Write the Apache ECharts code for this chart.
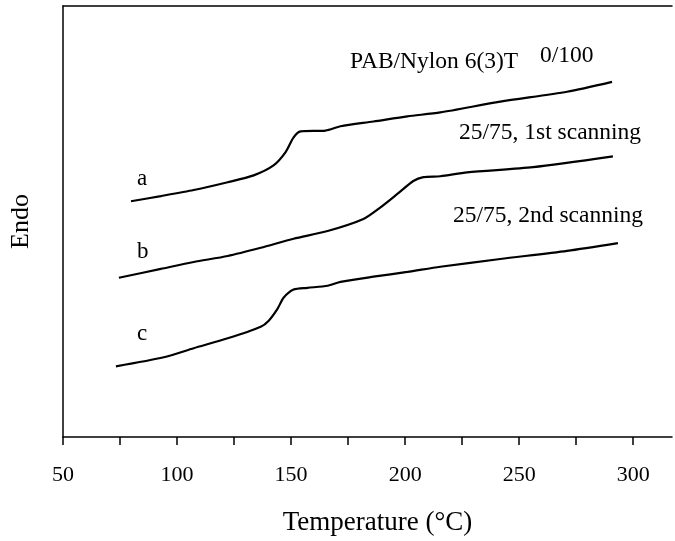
<!DOCTYPE html>
<html>
<head>
<meta charset="utf-8">
<script src="https://cdn.jsdelivr.net/npm/echarts@6/dist/echarts.min.js"></script>
<style>html,body{margin:0;padding:0;background:#fff}#c{width:675px;height:541px}</style>
</head>
<body>
<div id="c"></div>
<script>
// Temperature (°C) and Endo (arbitrary units)
var tempA = [79.8, 92.9, 107.3, 122.2, 133.6, 142.3, 147.6, 151.1, 154.2, 165.1, 171.7, 186.1, 201.0, 215.4, 241.7, 271.0, 290.7];
var endoA = [54.7, 55.9, 57.3, 59.1, 60.7, 63.0, 66.1, 69.5, 70.9, 71.1, 72.1, 73.2, 74.4, 75.3, 77.8, 80.1, 82.4];

var tempB = [74.5, 92.9, 107.3, 122.2, 136.7, 151.1, 166.0, 181.7, 189.2, 196.6, 203.6, 208.0, 215.4, 227.2, 256.1, 291.1];
var endoB = [36.95, 39.0, 40.6, 42.0, 43.9, 46.0, 47.8, 50.6, 53.3, 56.4, 59.4, 60.3, 60.5, 61.4, 62.6, 65.1];

var tempC = [73.2, 94.2, 107.3, 122.2, 136.7, 140.2, 144.1, 146.7, 151.1, 157.2, 166.0, 171.7, 186.1, 201.0, 215.4, 241.7, 271.0, 293.3];
var endoC = [16.4, 18.5, 20.6, 22.9, 25.6, 27.0, 29.8, 32.3, 34.2, 34.6, 35.1, 36.0, 37.2, 38.3, 39.5, 41.3, 43.2, 45.0];

var xTickLabels = [50, 100, 150, 200, 250, 300];

var curveLabels = ['a', 'b', 'c'];
var annotations = ['PAB/Nylon 6(3)T', '0/100', '25/75, 1st scanning', '25/75, 2nd scanning'];

function pairs(xs, ys) { return xs.map(function (x, i) { return [x, ys[i]]; }); }

var FONT = '"Liberation Serif", "DejaVu Serif", serif';
var chart = echarts.init(document.getElementById('c'), null, { renderer: 'canvas' });

function lineSeries(name, xs, ys) {
  return {
    name: name, type: 'line', data: pairs(xs, ys), smooth: 0.25, showSymbol: false,
    lineStyle: { color: '#000', width: 2.2 }, animation: false
  };
}

var txt = function (t, left, top, size) {
  return { type: 'text', left: left, top: top, style: { text: t, font: size + 'px ' + FONT, fill: '#000' } };
};

chart.setOption({
  backgroundColor: '#fff',
  animation: false,
  grid: { left: 62, right: 3, top: 6, bottom: 102 },
  xAxis: [{
    type: 'value', min: 50, max: 317, interval: 25, position: 'bottom',
    axisLine: { show: true, onZero: false, lineStyle: { color: '#000', width: 1.5 } },
    axisTick: { show: true, inside: false, length: 8, lineStyle: { color: '#000', width: 1.5 } },
    axisLabel: {
      margin: 27, color: '#000', fontFamily: FONT, fontSize: 22,
      showMaxLabel: false,
      formatter: function (v) { return xTickLabels.indexOf(v) >= 0 ? String(v) : ''; }
    },
    splitLine: { show: false },
    name: 'Temperature (\u00B0C)', nameLocation: 'middle', nameGap: 72,
    nameTextStyle: { color: '#000', fontFamily: FONT, fontSize: 27, padding: [0, 0, 0, 20] }
  }, {
    type: 'value', min: 50, max: 317, position: 'top',
    axisLine: { show: true, onZero: false, lineStyle: { color: '#000', width: 1.5 } },
    axisTick: { show: false }, axisLabel: { show: false }, splitLine: { show: false }
  }],
  yAxis: {
    type: 'value', min: 0, max: 100,
    axisLine: { show: true, onZero: false, lineStyle: { color: '#000', width: 1.5 } },
    axisTick: { show: false }, axisLabel: { show: false }, splitLine: { show: false },
    name: 'Endo', nameLocation: 'middle', nameGap: 29, nameRotate: 90,
    nameTextStyle: { color: '#000', fontFamily: FONT, fontSize: 26 }
  },
  series: [
    lineSeries('a', tempA, endoA),
    lineSeries('b', tempB, endoB),
    lineSeries('c', tempC, endoC)
  ],
  graphic: [
    txt(curveLabels[0], 137, 167, 23),
    txt(curveLabels[1], 137, 240, 23),
    txt(curveLabels[2], 137, 322, 23),
    txt(annotations[0], 350, 50, 23.5),
    txt(annotations[1], 540, 44, 23.5),
    txt(annotations[2], 459, 121, 23.5),
    txt(annotations[3], 453, 204, 23.5)
  ]
});
</script>
</body>
</html>
